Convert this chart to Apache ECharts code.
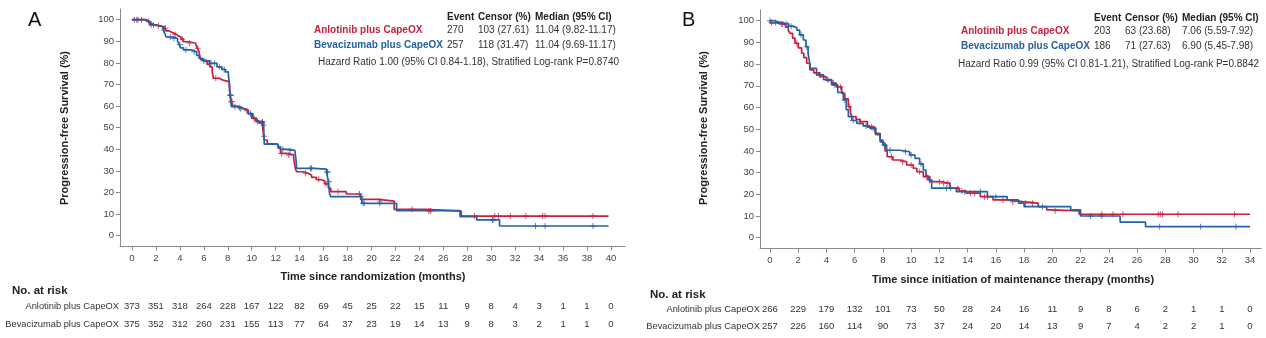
<!DOCTYPE html>
<html><head><meta charset="utf-8">
<script src="https://cdn.jsdelivr.net/npm/echarts@6/dist/echarts.min.js"></script>
<style>html,body{margin:0;padding:0;background:#fff;}#c{width:1266px;height:338px;}</style>
</head><body><div id="c"></div>
<script>
// ---------- DATA ----------
const yTicks = [0,10,20,30,40,50,60,70,80,90,100];
const xTicksA = [0,2,4,6,8,10,12,14,16,18,20,22,24,26,28,30,32,34,36,38,40];
const xTicksB = [0,2,4,6,8,10,12,14,16,18,20,22,24,26,28,30,32,34];
const groups = ['Anlotinib plus CapeOX','Bevacizumab plus CapeOX'];

// Panel A: Kaplan-Meier steps [time, survival after drop]
const A_anl = [[0,100],[1.1,99.2],[1.3,98.4],[1.5,97.6],[1.9,97.2],[2.3,96.8],[2.7,96.0],[2.85,94.8],[3.1,94.0],[3.4,93.2],[3.7,92.4],[3.9,92.0],[4.1,91.0],[4.3,89.8],[4.7,89.2],[5.3,88.3],[5.45,86.8],[5.6,85.2],[5.65,83.5],[5.75,81.5],[6.0,80.6],[6.3,79.3],[6.5,78.2],[6.7,76.0],[6.8,72.9],[7.3,72.0],[7.6,71.3],[8.1,71.2],[8.15,67],[8.2,65],[8.3,62],[8.45,60],[8.8,59.2],[9.2,58.5],[9.5,57.8],[9.7,56.5],[10.0,54.3],[10.3,53.3],[10.6,52.2],[10.9,51.2],[11.0,46],[11.05,44.3],[11.3,42.5],[12.0,42.0],[12.2,40.5],[12.4,38.1],[12.9,37.4],[13.5,35.8],[13.65,31],[13.75,29.6],[14.3,28.9],[14.7,28.0],[15.0,27.0],[15.4,26.0],[15.8,25.2],[16.1,24],[16.4,22],[16.6,20.4],[17.9,19.3],[19.1,16.8],[20.6,16.0],[21.9,12.2],[24.6,11.4],[27.5,9.1]];
const A_bev = [[0,100],[1.2,99.2],[1.5,97.6],[2.0,97.0],[2.4,96.4],[2.6,95.2],[2.75,93.5],[2.85,92.0],[3.45,91.3],[3.8,90.2],[3.95,88.5],[4.05,87.0],[4.3,86.0],[5.0,85.5],[5.2,85.2],[5.4,83.5],[5.6,82.1],[5.9,81.0],[6.5,79.8],[7.1,78.2],[7.5,77.0],[7.8,75.8],[8.05,74.4],[8.15,70],[8.2,65],[8.25,62],[8.3,59.7],[8.9,58.8],[9.3,58.2],[9.7,56.5],[10.1,54.5],[10.4,52.8],[11.0,51.2],[11.02,46],[11.05,42.4],[12.2,41.2],[12.4,40.0],[13.0,39.5],[13.6,38.9],[13.7,35],[13.75,31.2],[15.2,30.8],[16.25,29.5],[16.4,25],[16.5,19.6],[16.6,18.1],[19.2,15.0],[22.1,11.6],[27.4,8.8],[28.8,7.3],[30.7,4.5]];
const A_end = 39.8;
const A_anlCens = [0.4,0.8,1.6,2.2,2.8,3.6,4.2,4.8,5.5,6.2,7.0,8.25,8.35,9.0,9.6,10.2,10.8,12.5,13.1,14.5,15.6,16.2,17.2,19.0,20.7,23.4,24.8,24.95,28.6,30.3,30.6,31.6,32.9,34.3,34.5,38.5];
const A_bevCens = [0.2,0.5,1.4,1.8,2.7,3.2,3.5,4.0,4.5,5.2,6.0,6.6,6.9,7.3,7.7,8.2,8.22,8.28,8.6,9.1,9.9,10.5,10.9,11.0,11.03,12.6,13.2,14.9,15.0,16.3,16.35,16.45,19.1,19.3,19.4,20.7,30.1,30.15,33.7,34.5,38.5];

// Panel B
const B_anl = [[0,100],[0.05,99],[0.5,98.5],[0.94,98],[1.1,97],[1.3,95.5],[1.42,94.2],[1.6,92],[1.77,89.6],[2.0,87.5],[2.24,85],[2.4,83],[2.6,80.4],[2.83,77.3],[3.1,76.0],[3.54,74.2],[4.0,72.5],[4.37,71.2],[4.7,69.5],[5.08,66.5],[5.3,64],[5.55,60.4],[5.7,57.5],[5.8,55.8],[6.1,54.5],[6.37,53.5],[6.9,51],[7.44,48.1],[7.8,45],[8.0,43.5],[8.15,40],[8.3,37.3],[8.7,35.8],[9.2,35.0],[9.68,33.5],[10.15,32],[10.4,30.4],[10.86,28.1],[11.33,25.8],[12.16,25.1],[12.75,22.8],[13.4,21.5],[13.9,20.5],[14.9,18.9],[15.8,17.4],[16.8,16.6],[17.9,15.9],[19.0,14.3],[19.6,12.8],[19.9,12.4],[21.9,10.8]];
const B_bev = [[0,100],[0.3,99.2],[0.7,98.5],[1.3,97.5],[1.6,96.8],[1.9,95.7],[2.1,93.5],[2.36,91.1],[2.55,88],[2.7,85],[2.8,81],[2.83,78],[3.3,75],[3.8,72.8],[4.37,70.4],[4.8,67],[5.2,63.5],[5.4,59],[5.55,55.8],[5.8,54],[6.14,52.7],[6.6,51.5],[7.08,50.4],[7.5,47.5],[7.8,44.2],[8.0,42.7],[8.26,40.3],[9.2,39.6],[9.9,38.1],[10.27,36.6],[10.6,34],[10.86,31.2],[11.05,28.5],[11.2,26.6],[11.45,22.8],[13.2,21.2],[15.4,18.9],[16.8,17.4],[17.6,15.9],[18.0,14.3],[21.3,12.8],[22.0,10.0],[24.8,7.2],[26.6,5.1]];
const B_end = 34.0;
const B_anlCens = [0.1,0.9,1.9,3.3,4.5,5.0,5.6,6.4,7.2,8.6,9.4,10.0,10.6,11.1,12.0,12.3,12.6,13.3,13.6,14.2,14.5,15.2,15.4,16.5,17.2,18.1,18.6,20.2,23.5,24.3,25.0,27.5,27.65,27.8,28.9,32.9];
const B_bevCens = [0.0,0.4,0.8,1.2,1.5,2.2,2.6,3.5,4.1,4.6,5.3,5.9,6.8,7.3,8.1,8.5,9.6,10.0,10.7,11.3,12.5,12.8,13.8,14.9,16.0,19.3,22.7,23.5,27.6,30.5,33.0];

// Legend tables
const A_stats = [['270','103 (27.61)','11.04 (9.82-11.17)'],['257','118 (31.47)','11.04 (9.69-11.17)']];
const B_stats = [['203','63 (23.68)','7.06 (5.59-7.92)'],['186','71 (27.63)','6.90 (5.45-7.98)']];
const A_hr = 'Hazard Ratio 1.00 (95% CI 0.84-1.18), Stratified Log-rank P=0.8740';
const B_hr = 'Hazard Ratio 0.99 (95% CI 0.81-1.21), Stratified Log-rank P=0.8842';
const statHeads = ['Event','Censor (%)','Median (95% CI)'];

// Numbers at risk
const A_riskAnl = [373,351,318,264,228,167,122,82,69,45,25,22,15,11,9,8,4,3,1,1,0];
const A_riskBev = [375,352,312,260,231,155,113,77,64,37,23,19,14,13,9,8,3,2,1,1,0];
const B_riskAnl = [266,229,179,132,101,73,50,28,24,16,11,9,8,6,2,1,1,0];
const B_riskBev = [257,226,160,114,90,73,37,24,20,14,13,9,7,4,2,2,1,0];

// ---------- STYLE ----------
const FONT = '"Liberation Sans", Arial, Helvetica, sans-serif';
const RED = '#c9203f', BLUE = '#2662a6';
const PLUS = 'path://M-0.16,-1L0.16,-1L0.16,-0.16L1,-0.16L1,0.16L0.16,0.16L0.16,1L-0.16,1L-0.16,0.16L-1,0.16L-1,-0.16L-0.16,-0.16Z';

function survAt(steps, t){ let s = steps[0][1]; for (const p of steps){ if (p[0] <= t + 1e-9) s = p[1]; else break; } return s; }
function lineData(steps, end){ return steps.concat([[end, steps[steps.length-1][1]]]); }
function censData(steps, times){ return times.map(t => [t, survAt(steps, t)]); }

const chart = echarts.init(document.getElementById('c'), null, {renderer:'canvas'});

function xAx(grid, min, max, ticks){
  return {type:'value', gridIndex:grid, min:min, max:max,
    axisLine:{show:true, onZero:false, lineStyle:{color:'#8a8a8a', width:1}},
    axisTick:{show:true, customValues:ticks, length:4, lineStyle:{color:'#8a8a8a'}},
    axisLabel:{show:true, customValues:ticks, fontFamily:FONT, fontSize:9.5, color:'#444', margin:7},
    splitLine:{show:false}};
}
function yAx(grid){
  return {type:'value', gridIndex:grid, min:-5, max:105,
    axisLine:{show:true, onZero:false, lineStyle:{color:'#8a8a8a', width:1}},
    axisTick:{show:true, customValues:yTicks, length:4, lineStyle:{color:'#8a8a8a'}},
    axisLabel:{show:true, customValues:yTicks, fontFamily:FONT, fontSize:9.5, color:'#444', margin:6},
    splitLine:{show:false}};
}
function km(idx, steps, end, color){
  return {type:'line', xAxisIndex:idx, yAxisIndex:idx, step:'end', symbol:'none', data:lineData(steps,end),
    lineStyle:{color:color, width:1.7}, z:2, silent:true};
}
function cens(idx, steps, times, color){
  return {type:'scatter', xAxisIndex:idx, yAxisIndex:idx, symbol:PLUS, symbolSize:6, data:censData(steps,times),
    itemStyle:{color:color}, z:3, silent:true};
}

chart.setOption({
  animation:false,
  grid:[
    {left:120, top:8.9, width:505.3, height:237.6, containLabel:false},
    {left:760.1, top:9.85, width:501.2, height:238.7, containLabel:false}
  ],
  xAxis:[xAx(0,-1,41.2,xTicksA), xAx(1,-0.7,34.8,xTicksB)],
  yAxis:[yAx(0), yAx(1)],
  series:[
    km(0,A_anl,A_end,RED), km(0,A_bev,A_end,BLUE),
    cens(0,A_anl,A_anlCens,RED), cens(0,A_bev,A_bevCens,BLUE),
    km(1,B_anl,B_end,RED), km(1,B_bev,B_end,BLUE),
    cens(1,B_anl,B_anlCens,RED), cens(1,B_bev,B_bevCens,BLUE)
  ]
});

function txt(x, y, text, o){
  o = o || {};
  const align = o.align || 'left';
  return {type:'text', x:x, y:y, rotation:o.rot||0, silent:true, z:10,
    style:{text:text, fill:o.fill||'#333', font:(o.weight||'normal')+' '+(o.size||10)+'px '+FONT,
      align:align, textAlign:align, verticalAlign:'middle', textVerticalAlign:'middle'}};
}

const g = [];
// panel letters
g.push(txt(28, 20, 'A', {size:20, fill:'#111'}));
g.push(txt(682, 20, 'B', {size:20, fill:'#111'}));
// y titles
g.push(txt(65, 128, 'Progression-free Survival (%)', {size:11, weight:'bold', align:'center', rot:Math.PI/2, fill:'#222'}));
g.push(txt(704, 128, 'Progression-free Survival (%)', {size:11, weight:'bold', align:'center', rot:Math.PI/2, fill:'#222'}));
// x titles
g.push(txt(373, 277, 'Time since randomization (months)', {size:11, weight:'bold', align:'center', fill:'#222'}));
g.push(txt(1013, 280, 'Time since initiation of maintenance therapy (months)', {size:11, weight:'bold', align:'center', fill:'#222'}));

// legend tables
function legend(nameX, colX, y0, stats, hr, hrX, hrY){
  statHeads.forEach((h,i) => g.push(txt(colX[i], y0, h, {weight:'bold', fill:'#222'})));
  [RED, BLUE].forEach((c, r) => {
    const y = y0 + 13 + r*15.5;
    g.push(txt(nameX, y, groups[r], {weight:'bold', fill:c}));
    stats[r].forEach((s,i) => g.push(txt(colX[i], y, s, {fill:'#333'})));
  });
  g.push(txt(hrX, hrY, hr, {fill:'#333'}));
}
legend(314, [447,478,535], 17, A_stats, A_hr, 318, 62);
legend(961, [1094,1125,1182], 18, B_stats, B_hr, 958, 64);

// numbers at risk
function risk(axisIdx, ticks, rows, labelRight, headX, headY, rowY){
  g.push(txt(headX, headY, 'No. at risk', {size:11.5, weight:'bold', fill:'#222'}));
  rows.forEach((vals, r) => {
    g.push(txt(labelRight, rowY[r], groups[r], {size:9.3, align:'right', fill:'#333'}));
    vals.forEach((v, i) => {
      const px = chart.convertToPixel({xAxisIndex:axisIdx}, ticks[i]);
      g.push(txt(px, rowY[r], String(v), {size:9.5, align:'center', fill:'#333'}));
    });
  });
}
risk(0, xTicksA, [A_riskAnl, A_riskBev], 119, 12, 291, [306, 324]);
risk(1, xTicksB, [B_riskAnl, B_riskBev], 760, 650, 295, [309, 326]);

chart.setOption({graphic:{elements:g}});
</script></body></html>
